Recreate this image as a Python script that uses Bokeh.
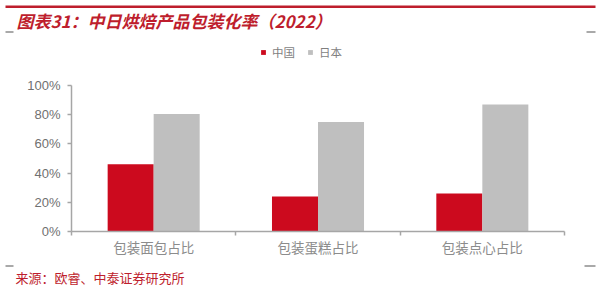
from bokeh.plotting import figure
from bokeh.layouts import column
from bokeh.models import (ColumnDataSource, Range1d, FixedTicker, NumeralTickFormatter,
                          Legend, LegendItem)
from bokeh.core.properties import value
from bokeh.transform import dodge
from bokeh.embed import file_html
from bokeh.resources import INLINE

# ---- data ----
categories = ["包装面包占比", "包装蛋糕占比", "包装点心占比"]
series_names = ["中国", "日本"]
china = [0.46, 0.24, 0.26]
japan = [0.805, 0.75, 0.87]
y_ticks = [0, 0.2, 0.4, 0.6, 0.8, 1.0]
title_text = "图表31：中日烘焙产品包装化率（2022）"
source_text = "来源：欧睿、中泰证券研究所"

RED = "#CC0A1E"
GREY = "#BFBFBF"
TITLE_RED = "#BE1E2D"
AXIS = "#A6A6A6"
DASH = "#555555"
CJK = "Noto Sans CJK SC"

W = 600
HEAD_H, MAIN_H, FOOT_H = 40, 222, 29
L, R, B = 71, 36, 31
Y100_PX = 85          # canvas y of the 100% tick
Y0_PX = HEAD_H + MAIN_H - B   # canvas y of the 0% line (231)


def pixel_fig(h, y0):
    f = figure(width=W, height=h, output_backend="svg", toolbar_location=None, tools="",
               x_range=Range1d(0, W), y_range=Range1d(y0 + h, y0),
               min_border=0, x_axis_type=None, y_axis_type=None, frame_align=False)
    f.outline_line_color = None
    f.grid.visible = False
    f.background_fill_color = "white"
    f.border_fill_color = "white"
    return f


# ---- header: rule, title ----
head = pixel_fig(HEAD_H, 0)
head.quad(left=[5], right=[595], top=[5], bottom=[7.5], fill_color=TITLE_RED, line_color=None)
head.quad(left=[5, 586], right=[13, 595], top=[31, 31], bottom=[32, 32],
          fill_color=DASH, line_color=None)
head.text(x=[16], y=[20], text=[title_text], text_font=value(CJK), text_font_size="17px",
          text_font_style="bold italic", text_color=TITLE_RED, text_baseline="middle",
          text_align="left")

# ---- main chart ----
src = ColumnDataSource(dict(x=[i + 0.5 for i in range(len(categories))],
                            china=china, japan=japan))

y_top = (Y0_PX - HEAD_H) / (Y0_PX - Y100_PX)   # frame extends above 100% to hold the legend
p = figure(width=W, height=MAIN_H, output_backend="svg", toolbar_location=None, tools="",
           x_range=Range1d(0, len(categories)), y_range=Range1d(0, y_top), frame_align=False,
           min_border_left=L, min_border_right=R, min_border_top=0, min_border_bottom=B)
p.outline_line_color = None
p.grid.grid_line_color = None
p.background_fill_color = "white"
p.border_fill_color = "white"

bw = 0.28
r1 = p.vbar(x=dodge("x", -bw / 2, range=p.x_range), top="china", width=bw, source=src,
            fill_color=RED, line_color=None)
r2 = p.vbar(x=dodge("x", bw / 2, range=p.x_range), top="japan", width=bw, source=src,
            fill_color=GREY, line_color=None)

xa = p.xaxis[0]
xa.ticker = FixedTicker(ticks=[i + 0.5 for i in range(len(categories))],
                        minor_ticks=list(range(len(categories) + 1)))
xa.major_label_overrides = {i + 0.5: c for i, c in enumerate(categories)}
xa.major_tick_line_color = None
xa.major_tick_out = 0
xa.major_tick_in = 0
xa.minor_tick_out = 4
xa.minor_tick_in = 0
xa.minor_tick_line_color = AXIS
xa.minor_tick_line_width = 1.5
xa.axis_line_color = AXIS
xa.axis_line_width = 1.5
xa.major_label_standoff = 1
xa.major_label_text_font = CJK
xa.major_label_text_font_size = "13.5px"
xa.major_label_text_color = "#8C8C8C"

ya = p.yaxis[0]
ya.ticker = FixedTicker(ticks=y_ticks, minor_ticks=[])
ya.bounds = (0, 1)
ya.formatter = NumeralTickFormatter(format="0%")
ya.major_tick_in = 0
ya.major_tick_out = 4
ya.major_tick_line_color = AXIS
ya.major_tick_line_width = 1.5
ya.axis_line_color = AXIS
ya.axis_line_width = 1.5
ya.major_label_standoff = 7
ya.major_label_text_font = "Liberation Sans"
ya.major_label_text_font_size = "13px"
ya.major_label_text_color = "#707070"

legend = Legend(items=[LegendItem(label=series_names[0], renderers=[r1]),
                       LegendItem(label=series_names[1], renderers=[r2])],
                orientation="horizontal", location=(260 - L, Y0_PX - 60),
                glyph_width=6, glyph_height=6, label_standoff=6, spacing=12,
                padding=0, margin=0, border_line_color=None, background_fill_alpha=0,
                label_text_font=CJK, label_text_font_size="11.5px", label_text_color="#7F7F7F",
                label_height=12, label_width=10)
p.add_layout(legend, "center")

# ---- footer: dashes and source ----
foot = pixel_fig(FOOT_H, HEAD_H + MAIN_H)
foot.quad(left=[5, 584], right=[13, 595], top=[265, 265], bottom=[266, 266],
          fill_color=DASH, line_color=None)
foot.text(x=[15], y=[277], text=[source_text], text_font=value(CJK), text_font_size="13px",
          text_color=TITLE_RED, text_baseline="middle", text_align="left")

layout = column(head, p, foot, spacing=0)
open("out.html", "w").write(file_html(layout, INLINE))
